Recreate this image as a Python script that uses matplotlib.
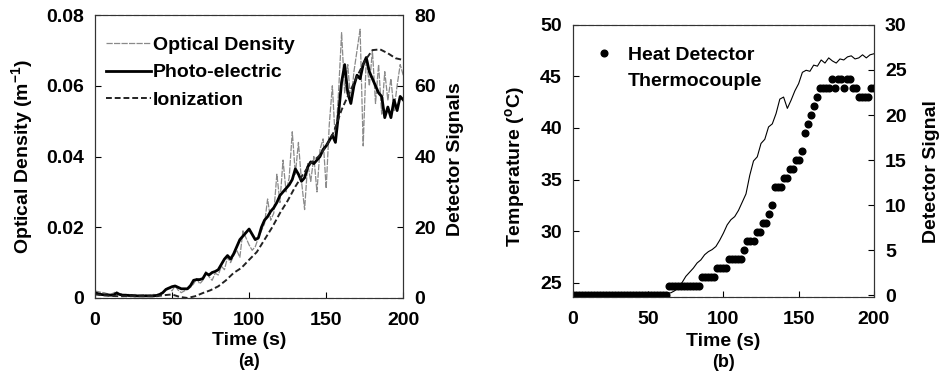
import matplotlib
matplotlib.use("Agg")
import matplotlib.pyplot as plt
import numpy as np

plt.rcParams['font.family'] = ['Liberation Sans', 'DejaVu Sans']
plt.rcParams['font.weight'] = 'bold'
plt.rcParams['mathtext.fontset'] = 'custom'
plt.rcParams['mathtext.bf'] = 'Liberation Sans:bold'
plt.rcParams['mathtext.rm'] = 'Liberation Sans:bold'
plt.rcParams['mathtext.default'] = 'bf'

FS = 14

# ---- panel (a): smoke detectors ----
t_a = np.arange(0, 201, 2)
# optical density, in 1e-3 m^-1
od_milli = [2.0, 1.8, 1.6, 1.5, 1.2, 1.0, 1.4, 1.8, 1.2, 1.0, 0.9,
            1.0, 0.8, 1.0, 0.7, 0.8, 0.9, 0.7, 0.8, 1.0, 0.9,
            1.2, 1.5, 2.6, 3.0, 2.0, 3.5, 2.2, 1.5, 2.0, 2.5,
            3.0, 4.0, 5.5, 4.0, 5.0, 7.5, 6.0, 5.0, 7.0, 6.5,
            9.0, 8.0, 11.5, 10.0, 12.0, 13.5, 11.5, 19.0, 17.0, 15.0,
            13.5, 14.5, 17.0, 19.0, 21.0, 28.0, 22.0, 24.0, 35.0, 27.0,
            39.0, 30.0, 34.0, 47.0, 35.0, 44.0, 33.0, 25.0, 38.0, 33.0,
            40.0, 30.0, 42.0, 45.0, 31.0, 49.0, 60.0, 44.0, 58.0, 75.0,
            58.0, 66.0, 55.0, 64.0, 70.0, 76.0, 43.0, 68.0, 60.0, 70.0,
            55.0, 66.0, 52.0, 64.0, 56.0, 62.0, 53.0, 60.0, 66.0, 63.0]
photo = [1.5, 1.2, 1.0, 0.9, 0.9, 0.8, 0.8, 1.4, 1.0, 0.8, 0.8,
         0.7, 0.7, 0.6, 0.6, 0.6, 0.6, 0.6, 0.6, 0.6, 0.7,
         1.0, 1.5, 2.4, 2.8, 3.2, 3.4, 3.0, 2.6, 2.6, 2.6,
         3.5, 5.0, 5.2, 5.2, 5.5, 7.0, 6.5, 7.2, 7.5, 8.0,
         9.5, 11.0, 12.0, 11.0, 12.5, 14.5, 16.5, 17.5, 18.5, 19.5,
         18.0, 16.5, 17.0, 20.0, 22.0, 23.0, 24.5, 25.5, 27.0, 29.0,
         30.0, 31.0, 32.0, 33.5, 36.5, 35.0, 33.0, 34.0, 37.0, 38.5,
         38.0, 39.0, 40.0, 42.0, 43.0, 44.5, 46.0, 44.0, 52.0, 61.0,
         66.0, 58.0, 55.0, 60.0, 63.0, 62.0, 66.0, 68.0, 64.0, 62.0,
         60.0, 58.0, 57.0, 51.0, 54.0, 51.0, 56.0, 53.0, 57.0, 56.0]
t_ion = np.arange(0, 201, 5)
ion = [1.0, 0.8, 0.6, 0.5, 0.5, 0.5, 0.5, 0.5, 0.5, 0.8, 1.0, 0.3, 0.0,
       0.5, 1.4, 2.2, 3.3, 5.0, 7.1, 8.5, 10.8, 13.0, 16.5, 20.0, 24.0,
       27.5, 31.5, 35.0, 38.1, 40.0, 42.8, 47.0, 53.2, 58.0, 62.6, 67.0,
       70.1, 70.3, 69.2, 67.8, 67.3]

# ---- panel (b): heat detector ----
t_b = np.arange(0, 201, 2)
heat = [0] * 32 + [1] * 11 + [2] * 5 + [3] * 4 + [4] * 5 + \
       [5, 6, 6, 6, 7, 7, 8, 8, 9, 10, 12, 12, 12, 13, 13, 14, 14, 15, 15,
        16, 18, 19, 20, 21, 22, 23, 23, 23, 23, 24, 23, 24, 24, 23, 24, 24,
        23, 23, 22, 22, 22, 22, 23, 23]
t_tc = np.arange(0, 201, 2.5)
tc = [24.0] * 26 + \
     [24.0, 24.2, 24.5, 25.0, 25.6, 26.0, 26.4, 26.9, 27.2, 27.7, 28.0, 28.2,
      28.5, 29.1, 29.8, 30.6, 31.1, 31.4, 32.0, 32.8, 33.6, 35.4, 36.8, 37.2,
      38.5, 38.9, 40.1, 40.4, 41.4, 42.8, 43.0, 41.9, 42.7, 43.6, 44.3, 45.4,
      45.6, 45.5, 46.1, 46.0, 46.6, 46.3, 46.8, 46.5, 46.3, 46.7, 46.6, 46.9,
      47.0, 46.7, 46.8, 47.1, 46.8, 47.1, 47.2]

fig = plt.figure(figsize=(9.4, 3.87), dpi=100)
axA = fig.add_axes([0.101, 0.230, 0.328, 0.731])
axA2 = axA.twinx()
axB = fig.add_axes([0.6096, 0.2326, 0.320, 0.703])
axB2 = axB.twinx()

l_od, = axA.plot(t_a, np.array(od_milli) / 1000.0, color='#8a8a8a', lw=0.9,
                 linestyle=(0, (5, 1)))
l_pe, = axA2.plot(t_a, photo, color='black', lw=2.0)
l_ion, = axA2.plot(t_ion, ion, color='#222222', lw=1.4, linestyle=(0, (3, 1.5)))

axA.set_xlim(0, 200)
axA.set_ylim(0, 0.08)
axA2.set_ylim(0, 80)
axA.set_xticks([0, 50, 100, 150, 200])
axA.set_yticks([0, 0.02, 0.04, 0.06, 0.08])
axA.set_yticklabels(['0', '0.02', '0.04', '0.06', '0.08'])
axA2.set_yticks([0, 20, 40, 60, 80])

leg = axA.legend([l_od, l_pe, l_ion], ['Optical Density', 'Photo-electric', 'Ionization'],
                 loc='upper left', bbox_to_anchor=(-0.021, 0.986), frameon=False,
                 fontsize=FS, handlelength=2.3, handletextpad=0.1, labelspacing=0.5)

axB.plot(t_tc, tc, color='black', lw=0.8)
axB2.plot(t_b, heat, 'o', color='black', markersize=4.8, linestyle='')
axB.set_xlim(0, 200)
axB.set_ylim(23.6, 50)
axB2.set_ylim(-0.2, 30)
axB.set_xticks([0, 50, 100, 150, 200])
axB.set_yticks([25, 30, 35, 40, 45, 50])
axB2.set_yticks([0, 5, 10, 15, 20, 25, 30])

hd_line = axB2.lines[0]
tc_line = axB.lines[0]
legB = axB.legend([hd_line, tc_line], ['Heat Detector', 'Thermocouple'],
                  loc='upper left', bbox_to_anchor=(0.007, 0.985), frameon=False,
                  fontsize=FS, handlelength=1.2, handletextpad=0.6, labelspacing=0.4)
legB.get_lines()[1].set_visible(False)

for ax in (axA, axA2, axB, axB2):
    ax.tick_params(direction='in', length=4, width=0.8, labelsize=FS, pad=8)
    for s in ax.spines.values():
        s.set_linewidth(0.8)
        s.set_color('#333333')
for ax in (axA, axB):
    ax.tick_params(axis='x', pad=10)
    ax.spines['top'].set_linestyle((0, (4, 3)))
    ax.spines['bottom'].set_linestyle((0, (4, 3)))

axA.set_xlabel('Time (s)', fontsize=FS, fontweight='bold')
axA.xaxis.set_label_coords(0.5, -0.152)
axA.xaxis.label.set_va('center')
axA.text(0.5, -0.226, '(a)', transform=axA.transAxes, ha='center', va='center',
         fontsize=FS - 1, fontweight='bold')
axA.set_ylabel('Optical Density (m$^{-1}$)', fontsize=FS, fontweight='bold', va='center')
axA.yaxis.set_label_coords(-0.237, 0.5)
axA2.set_ylabel('Detector Signals', fontsize=FS, fontweight='bold', va='center')
axA2.yaxis.set_label_coords(1.169, 0.49)

axB.set_xlabel('Time (s)', fontsize=FS, fontweight='bold')
axB.xaxis.set_label_coords(0.5, -0.162)
axB.xaxis.label.set_va('center')
axB.text(0.5, -0.239, '(b)', transform=axB.transAxes, ha='center', va='center',
         fontsize=FS - 1, fontweight='bold')
axB.set_ylabel('Temperature ($^{o}$C)', fontsize=FS, fontweight='bold', va='center')
axB.yaxis.set_label_coords(-0.193, 0.478)
axB2.set_ylabel('Detector Signal', fontsize=FS, fontweight='bold', va='center')
axB2.yaxis.set_label_coords(1.193, 0.46)

fig.savefig('out.png', dpi=100)
